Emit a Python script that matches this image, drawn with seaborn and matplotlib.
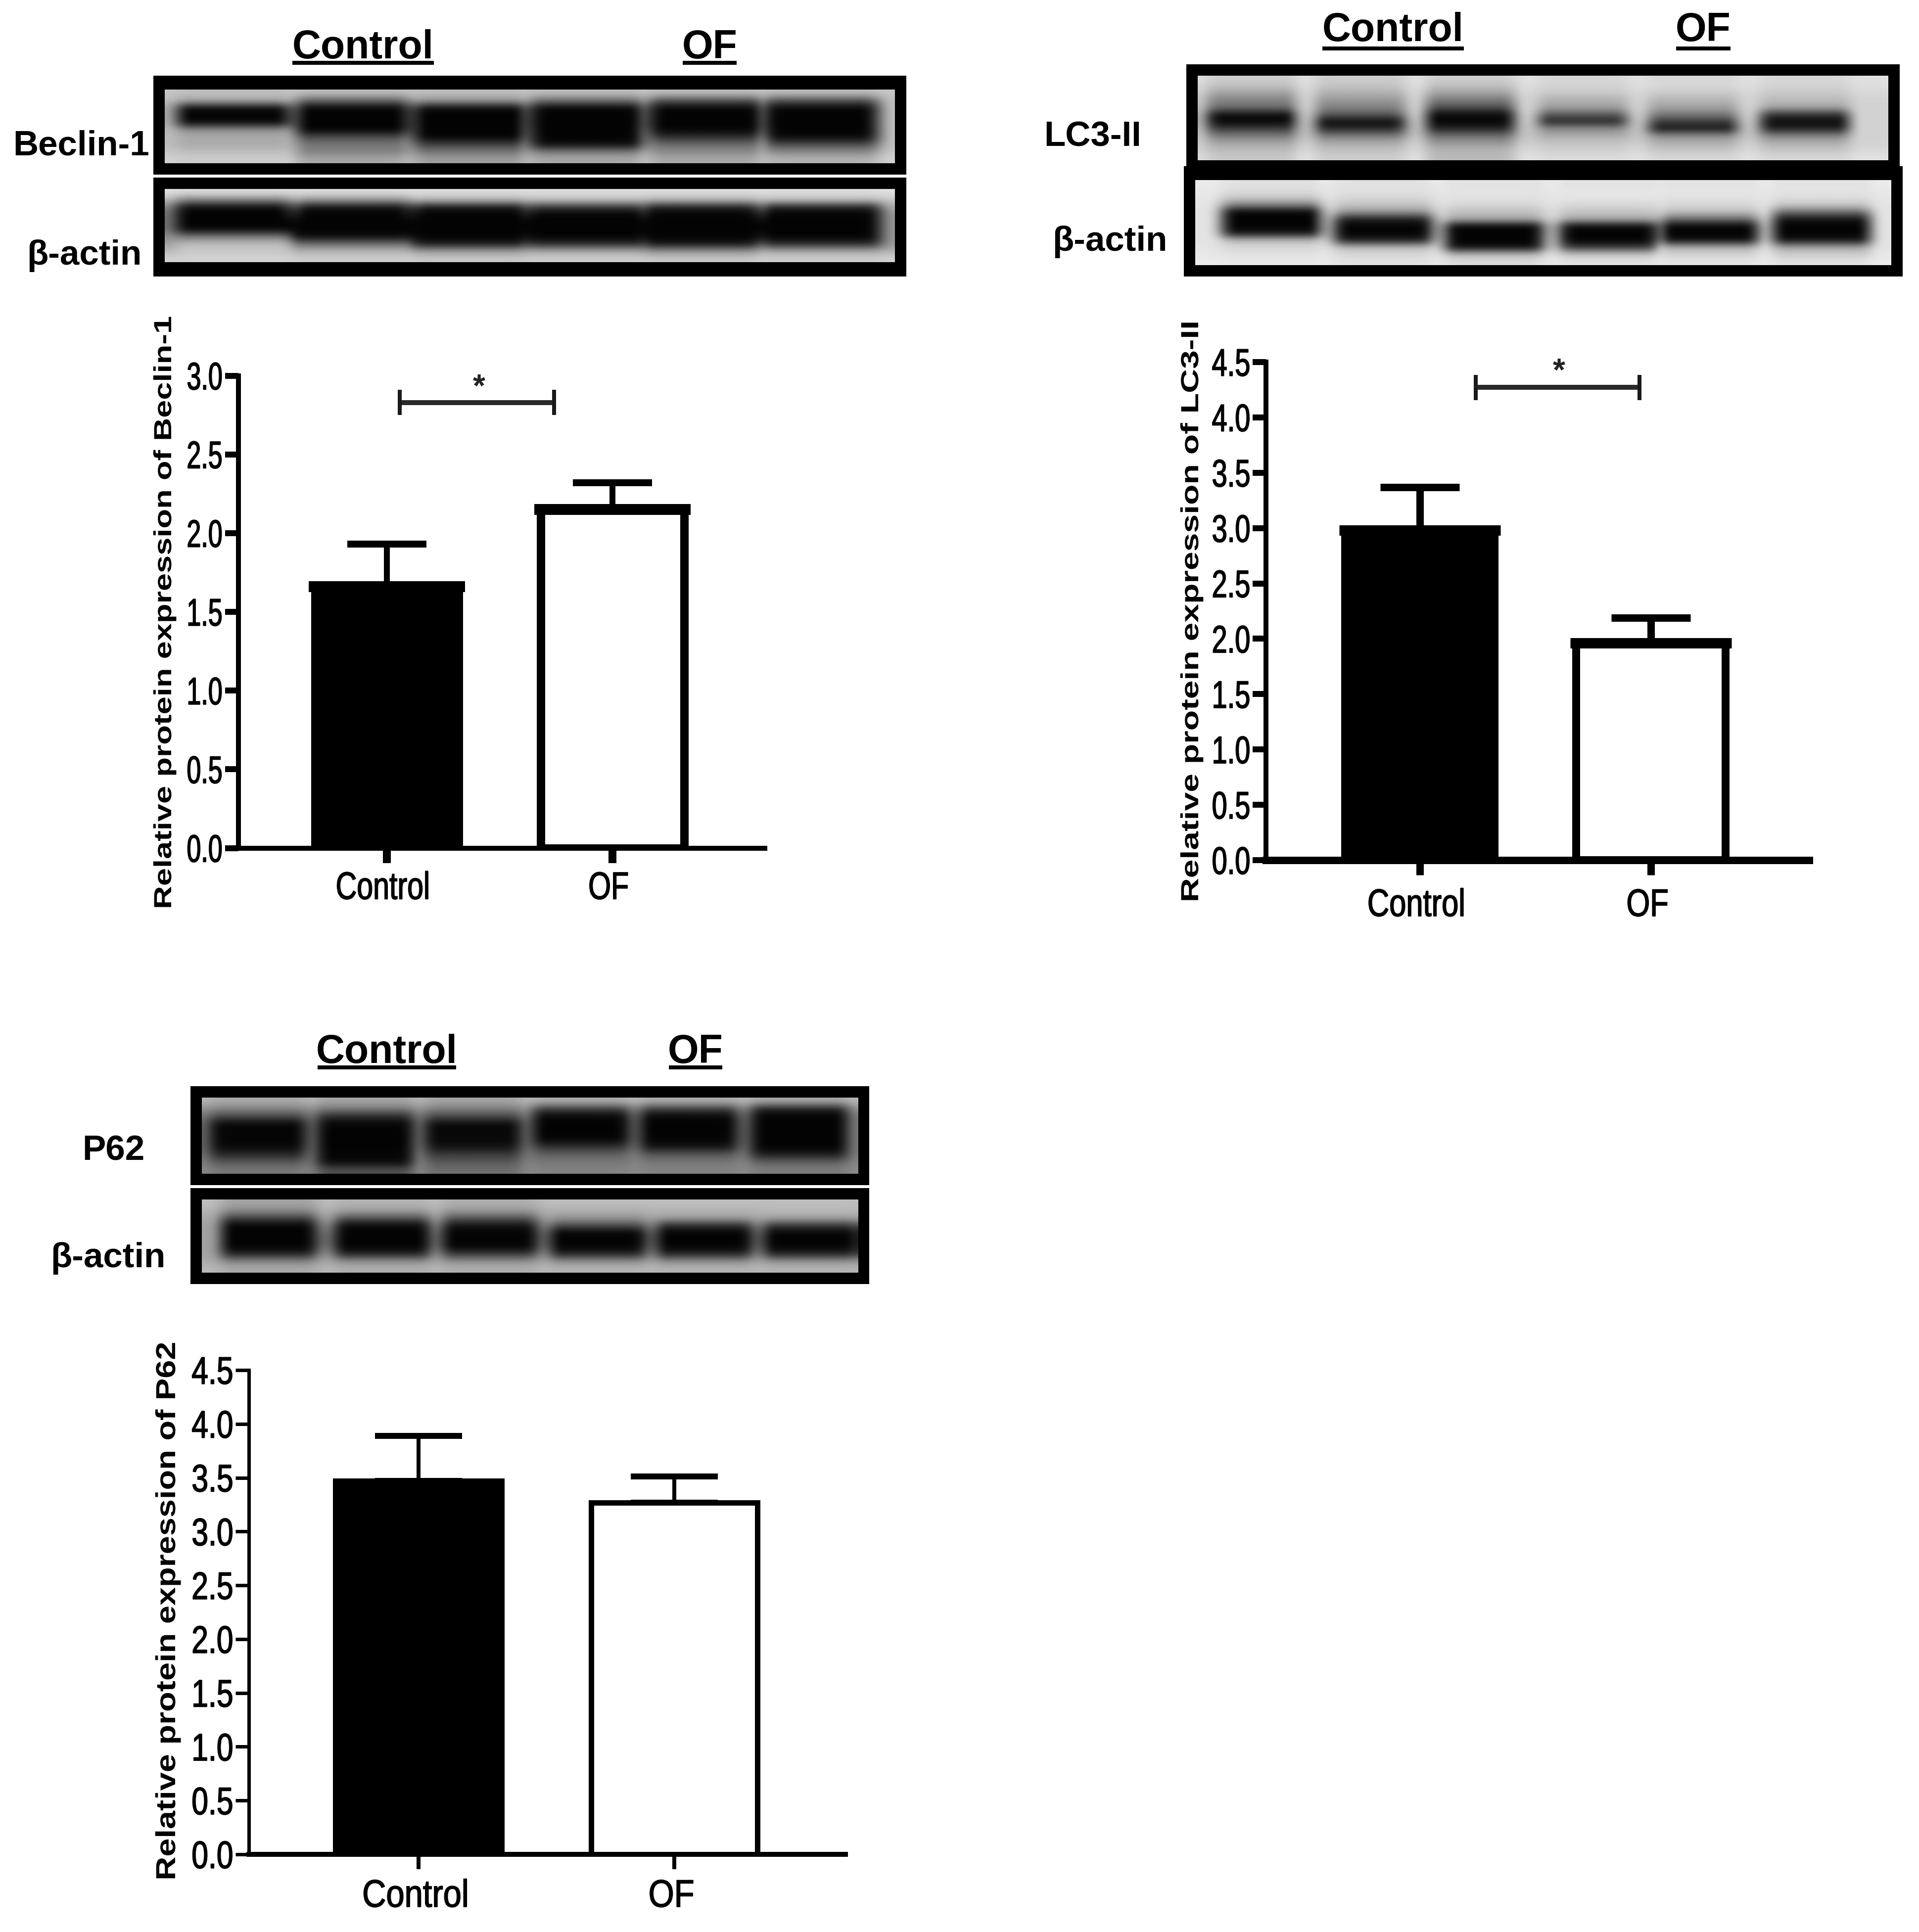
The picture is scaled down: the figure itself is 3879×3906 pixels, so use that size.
import numpy as np
import pandas as pd
import seaborn as sns
import matplotlib
matplotlib.use("Agg")
import matplotlib.pyplot as plt
from matplotlib.patches import Rectangle
from matplotlib.patheffects import AbstractPathEffect
from matplotlib.transforms import Affine2D

# --- Configuration ---
WIDTH = 3879
HEIGHT = 3906
DPI = 100

GROUPS = ["Control", "OF"]

# bar values
beclin_means = [1.66, 2.15]
beclin_tops = [1.93, 2.32]
lc3_means = [2.98, 1.96]
lc3_tops = [3.37, 2.19]
p62_means = [3.47, 3.27]
p62_tops = [3.89, 3.51]

beclin_ticks = [0.0, 0.5, 1.0, 1.5, 2.0, 2.5, 3.0]
long_ticks = [0.0, 0.5, 1.0, 1.5, 2.0, 2.5, 3.0, 3.5, 4.0, 4.5]

# blot grey levels, rows top to bottom, columns lane 1-6 then the gap between lanes
beclin_blot = [
    [190, 190, 190, 190, 190, 190, 200],
    [170, 100, 150, 110, 80, 80, 190],
    [10, 5, 10, 5, 5, 5, 170],
    [3, 3, 3, 3, 3, 3, 160],
    [10, 3, 3, 3, 3, 3, 150],
    [150, 5, 3, 3, 5, 3, 170],
    [170, 80, 5, 3, 50, 10, 190],
    [170, 120, 70, 15, 110, 80, 190],
    [190, 130, 120, 130, 140, 140, 200],
    [205, 170, 160, 170, 170, 180, 210],
]
beclin_actin = [
    [220, 220, 220, 220, 220, 220, 225],
    [130, 150, 180, 190, 180, 190, 200],
    [10, 15, 20, 50, 30, 30, 170],
    [3, 3, 3, 3, 3, 3, 90],
    [3, 3, 3, 3, 3, 3, 10],
    [5, 3, 3, 3, 3, 3, 10],
    [120, 10, 3, 3, 3, 3, 30],
    [190, 110, 25, 40, 20, 40, 130],
    [200, 180, 160, 170, 150, 170, 180],
    [210, 205, 200, 205, 200, 205, 210],
]
lc3_blot = [
    [205, 205, 205, 215, 215, 215, 225],
    [190, 195, 190, 210, 215, 210, 220],
    [160, 175, 160, 200, 200, 200, 215],
    [130, 150, 120, 175, 180, 185, 210],
    [110, 130, 80, 160, 160, 165, 210],
    [15, 90, 10, 90, 120, 50, 205],
    [5, 10, 5, 35, 60, 10, 200],
    [60, 40, 35, 140, 20, 30, 195],
    [120, 120, 110, 170, 140, 130, 195],
    [165, 170, 150, 195, 175, 175, 205],
    [185, 190, 180, 205, 195, 195, 215],
    [200, 205, 185, 220, 215, 215, 225],
]
lc3_actin = [
    [225, 225, 225, 225, 225, 225, 235],
    [220, 225, 228, 230, 230, 228, 232],
    [200, 215, 225, 228, 225, 220, 230],
    [130, 195, 215, 215, 215, 200, 228],
    [5, 150, 190, 195, 190, 110, 225],
    [3, 30, 170, 170, 110, 20, 222],
    [3, 3, 5, 10, 3, 3, 215],
    [20, 3, 3, 3, 3, 3, 215],
    [190, 30, 3, 3, 15, 20, 225],
    [215, 190, 15, 60, 180, 170, 228],
    [225, 215, 190, 200, 210, 205, 232],
    [232, 225, 220, 225, 228, 225, 235],
]
p62_blot = [
    [170, 165, 165, 175, 175, 170, 185],
    [130, 120, 125, 60, 60, 30, 150],
    [70, 40, 70, 5, 5, 3, 130],
    [5, 5, 8, 3, 3, 3, 120],
    [5, 3, 8, 3, 3, 3, 120],
    [5, 3, 8, 5, 5, 3, 120],
    [10, 3, 20, 50, 20, 3, 125],
    [40, 5, 60, 100, 90, 30, 130],
    [90, 10, 90, 120, 120, 100, 135],
    [120, 80, 110, 130, 130, 125, 140],
]
p62_actin = [
    [165, 180, 175, 190, 190, 190, 190],
    [140, 160, 155, 175, 180, 185, 180],
    [70, 90, 90, 150, 160, 165, 170],
    [5, 10, 20, 80, 50, 60, 150],
    [3, 3, 3, 5, 3, 5, 130],
    [3, 3, 3, 3, 3, 3, 120],
    [3, 3, 5, 5, 5, 5, 130],
    [40, 40, 60, 40, 40, 40, 155],
    [140, 150, 150, 150, 150, 155, 170],
    [170, 175, 175, 180, 180, 180, 185],
]

FONT = ["Liberation Sans", "DejaVu Sans"]


# --- Helper Functions ---

class Squeeze(AbstractPathEffect):
    """Rescales a text in its own frame, the reference type is condensed or stretched."""

    def __init__(self, sx, anchor="center", dx=0, sy=1, heavy=0):
        super().__init__()
        self.sx = sx
        self.sy = sy
        self.anchor = anchor
        self.dx = dx
        self.heavy = heavy

    def draw_path(self, renderer, gc, tpath, affine, rgbFace=None):
        box = tpath.get_extents()
        fix = {"left": box.x0, "center": (box.x0 + box.x1) / 2, "right": box.x1}[self.anchor]
        mid = (box.y0 + box.y1) / 2 if self.sy != 1 else 0
        squeeze = (Affine2D().translate(-fix, -mid).scale(self.sx, self.sy).translate(fix, mid))
        gc0 = renderer.new_gc()
        gc0.copy_properties(gc)
        if self.heavy:
            gc0.set_linewidth(self.heavy)
            gc0.set_foreground(rgbFace)
        renderer.draw_path(gc0, tpath, squeeze + affine + Affine2D().translate(self.dx, 0), rgbFace)
        gc0.restore()


def px_rect(x0, y0, x1, y1):
    """Pixel box (y from the top) to figure fractions."""
    return [x0 / WIDTH, 1 - y1 / HEIGHT, (x1 - x0) / WIDTH, (y1 - y0) / HEIGHT]


def lw(px):
    """Pixels to points."""
    return px * 72 / DPI


def put_text(fig, x, y, s, **kw):
    fig.text(x / WIDTH, 1 - y / HEIGHT, s, **kw)


def draw_blot(fig, table, outer, inner, centers, half):
    """Black frame with the blot picture inside; lanes blend into the gap column."""
    fig.add_artist(Rectangle((outer[0] / WIDTH, 1 - outer[3] / HEIGHT),
                             (outer[2] - outer[0]) / WIDTH, (outer[3] - outer[1]) / HEIGHT,
                             transform=fig.transFigure, color="black", lw=0))
    table = np.array(table, dtype=float)
    f = (np.arange(80) + 0.5) / 80
    dist = np.abs(f[:, None] - np.array(centers)[None, :]) / half
    lane = dist.argmin(axis=1)
    weight = np.clip((1.25 - dist.min(axis=1)) / 0.35, 0, 1)
    # the merged dark rows of the gap stop at the outer lanes
    gap = table[:, [6]]
    edge = np.maximum(gap, np.median(gap))
    outside = (f < centers[0]) | (f > centers[-1])
    back = np.where(outside, edge, gap)
    picture = table[:, lane] * weight + back * (1 - weight)
    ax = fig.add_axes(px_rect(*inner), zorder=2)
    ax.imshow(picture, cmap="gray", vmin=0, vmax=255, aspect="auto", interpolation="bicubic")
    ax.axis("off")


def draw_header(fig, control_x, of_x, base_y, line_y):
    """Underlined group names above a blot pair."""
    for name, (x0, x1) in zip(GROUPS, [control_x, of_x]):
        put_text(fig, (x0 + x1) / 2, base_y, name, ha="center", va="baseline",
                 family=FONT, weight="bold", fontsize=58)
        fig.add_artist(Rectangle((x0 / WIDTH, 1 - (line_y + 4) / HEIGHT), (x1 - x0) / WIDTH, 8 / HEIGHT,
                                 transform=fig.transFigure, color="black", lw=0))


def draw_bars(fig, box, centers, means, tops, ticks, ylabel, label_pos, style, bracket=None):
    """Bar panel; box runs from the y spine to the end of the x axis, bottom at zero."""
    left, top, right, bottom = box
    ax = fig.add_axes(px_rect(left, top, right, bottom), facecolor="none", zorder=3)
    df = pd.DataFrame({"group": GROUPS, "value": means})
    unit = centers[1] - centers[0]
    sns.barplot(data=df, x="group", y="value", hue="group", palette=["black", "white"],
                saturation=1, edgecolor="black", linewidth=lw(style["edge"]),
                width=style["width"], dodge=False, legend=False, errorbar=None, ax=ax)
    errs = np.array(tops) - np.array(means)
    ax.errorbar([0, 1], means, yerr=[np.zeros(2), errs], fmt="none", ecolor="black",
                elinewidth=lw(style["stem"]), capsize=lw(style["cap"]), capthick=lw(style["capt"]))
    if style["lid"]:
        # the top edge of the bars is heavier and overhangs a little
        reach = style["width"] / 2 + (style["edge"] / 2 + 4) / unit
        ax.hlines(means, np.arange(2) - reach, np.arange(2) + reach, color="black",
                  lw=lw(style["lid"]), zorder=4)
    ax.set_xlim((left - centers[0]) / unit, (right - centers[0]) / unit)
    ax.set_ylim(0, ticks[-1])
    ax.set_yticks(ticks)
    ax.set_yticklabels([f"{t:.1f}" for t in ticks], family=FONT, fontsize=48)
    ax.set_xticks([0, 1])
    ax.set_xticklabels(GROUPS, family=FONT, fontsize=56)
    ax.set_xlabel("")
    ax.tick_params(axis="y", length=lw(27), width=lw(style["tick"]), pad=lw(4))
    ax.tick_params(axis="x", length=lw(30), width=lw(style["xtick"]), pad=lw(style["xpad"]))
    for label in ax.get_yticklabels():
        label.set_path_effects([Squeeze(style["ysx"], "right", sy=56 / 48, heavy=1.2)])
    for label in ax.get_xticklabels():
        label.set_path_effects([Squeeze(style["xsx"], "center", dx=-style["xshift"], heavy=1.2)])
    sns.despine(ax=ax)
    ax.spines["left"].set_linewidth(lw(style["yspine"]))
    ax.spines["bottom"].set_linewidth(lw(style["xspine"]))
    ax.set_ylabel(ylabel, family=FONT, weight="bold", fontsize=label_pos[2], labelpad=0,
                  path_effects=[Squeeze(label_pos[3])])
    ax.yaxis.set_label_coords((label_pos[0] - left) / (right - left), (bottom - label_pos[1]) / (bottom - top))
    if bracket:
        x0, x1, y, half, star_x, star_y = bracket
        ax.plot([x0, x1], [y, y], color="#2a2a2a", lw=lw(10), solid_capstyle="butt")
        for x in (x0, x1):
            ax.plot([x, x], [y - half, y + half], color="#1a1a1a", lw=lw(8), solid_capstyle="butt")
        ax.text(star_x, star_y, "*", ha="center", va="center", family=FONT, weight="bold",
                fontsize=46, color="#222222")
    return ax


# --- Main Execution ---

def main():
    sns.set_style("ticks")
    plt.rcParams["font.family"] = FONT
    for key in ["text.color", "axes.labelcolor", "axes.edgecolor", "xtick.color", "ytick.color"]:
        plt.rcParams[key] = "black"
    fig = plt.figure(figsize=(WIDTH / DPI, HEIGHT / DPI), dpi=DPI, facecolor="white")

    label_kw = dict(ha="center", va="baseline", family=FONT, weight="bold", fontsize=51)

    # Beclin-1
    draw_header(fig, (591, 877), (1380, 1489), 118, 127)
    draw_blot(fig, beclin_blot, (310, 153, 1832, 353), (333, 181, 1809, 330),
              [0.094, 0.258, 0.417, 0.577, 0.740, 0.899], 0.073)
    draw_blot(fig, beclin_actin, (310, 359, 1832, 559), (333, 382, 1809, 530),
              [0.094, 0.258, 0.417, 0.577, 0.734, 0.899], 0.076)
    put_text(fig, 164, 313, "Beclin-1", **label_kw)
    put_text(fig, 170, 535, "β-actin", **label_kw)
    draw_bars(fig, (481.5, 759.5, 1546, 1714.5), (782, 1238), beclin_means, beclin_tops, beclin_ticks,
              "Relative protein expression of Beclin-1", (356, 1238, 36, 1.30),
              dict(edge=17, width=0.636, stem=12, cap=80, capt=14, tick=12, xtick=16, yspine=10, xspine=10,
                   lid=22, ysx=0.78, xsx=0.76, xpad=16, xshift=8),
              bracket=(0.057, 0.741, 2.83, 0.08, 0.408, 2.92))

    # LC3-II
    draw_header(fig, (2673, 2959), (3388, 3498), 83, 98)
    draw_blot(fig, lc3_blot, (2398, 130, 3840, 336), (2421, 153, 3817, 324),
              [0.077, 0.236, 0.395, 0.558, 0.717, 0.879], 0.06)
    draw_blot(fig, lc3_actin, (2393, 336, 3846, 559), (2416, 364, 3823, 536),
              [0.109, 0.270, 0.430, 0.594, 0.739, 0.900], 0.066)
    put_text(fig, 2209, 295, "LC3-II", **label_kw)
    put_text(fig, 2243, 507, "β-actin", **label_kw)
    draw_bars(fig, (2559, 732, 3657, 1739), (2870, 3337), lc3_means, lc3_tops, long_ticks,
              "Relative protein expression of LC3-II", (2432, 1236, 36, 1.357),
              dict(edge=16, width=0.645, stem=15, cap=80, capt=15, tick=12, xtick=15, yspine=10, xspine=15,
                   lid=21, ysx=0.84, xsx=0.79, xpad=26, xshift=7),
              bracket=(0.242, 0.951, 4.27, 0.115, 0.602, 4.405))

    # P62
    draw_header(fig, (642, 922), (1352, 1460), 2149, 2158)
    draw_blot(fig, p62_blot, (385, 2196, 1757, 2396), (408, 2219, 1735, 2373),
              [0.085, 0.249, 0.413, 0.578, 0.742, 0.910], 0.069)
    draw_blot(fig, p62_actin, (385, 2402, 1757, 2596), (408, 2425, 1735, 2573),
              [0.102, 0.275, 0.439, 0.604, 0.766, 0.929], 0.068)
    put_text(fig, 229, 2345, "P62", **label_kw)
    put_text(fig, 218, 2562, "β-actin", **label_kw)
    draw_bars(fig, (503, 2770, 1709, 3749), (846, 1363), p62_means, p62_tops, long_ticks,
              "Relative protein expression of P62", (366, 3258, 40, 1.2),
              dict(edge=11, width=0.648, stem=8, cap=88, capt=12, tick=7, xtick=8, yspine=7, xspine=10,
                   lid=0, ysx=0.91, xsx=0.86, xpad=19, xshift=6))

    fig.savefig("out.png", dpi=DPI, facecolor="white")
    plt.close(fig)


if __name__ == "__main__":
    main()
